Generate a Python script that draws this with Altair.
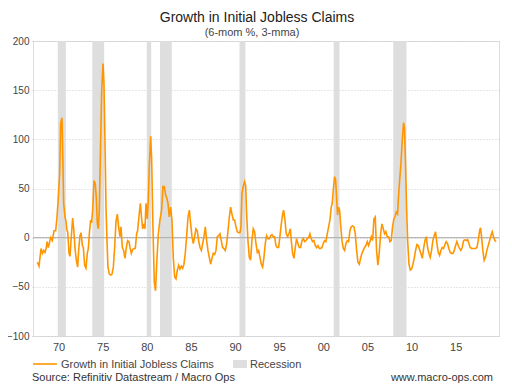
import altair as alt
import pandas as pd

years = [
    1967.60, 1967.79, 1968.02, 1968.17, 1968.32, 1968.47, 1968.62, 1968.70, 1968.85, 1969.00,
    1969.11, 1969.30, 1969.49, 1969.68, 1969.83, 1969.98, 1970.13, 1970.24, 1970.39, 1970.51,
    1970.58, 1970.74, 1970.85, 1970.96, 1971.04, 1971.19, 1971.30, 1971.45, 1971.60, 1971.72,
    1971.87, 1972.02, 1972.17, 1972.28, 1972.43, 1972.55, 1972.70, 1972.81, 1972.96, 1973.11,
    1973.26, 1973.38, 1973.49, 1973.64, 1973.75, 1973.87, 1974.02, 1974.17, 1974.28, 1974.40,
    1974.51, 1974.62, 1974.74, 1974.89, 1975.04, 1975.15, 1975.26, 1975.38, 1975.49, 1975.60,
    1975.76, 1975.91, 1976.06, 1976.21, 1976.36, 1976.51, 1976.66, 1976.81, 1976.96, 1977.08,
    1977.23, 1977.38, 1977.53, 1977.68, 1977.83, 1977.98, 1978.10, 1978.25, 1978.40, 1978.55,
    1978.70, 1978.85, 1978.96, 1979.11, 1979.27, 1979.38, 1979.53, 1979.68, 1979.79, 1979.91,
    1980.06, 1980.17, 1980.28, 1980.44, 1980.55, 1980.70, 1980.85, 1980.99,
    1981.12, 1981.31, 1981.49, 1981.68, 1981.83, 1981.98, 1982.14, 1982.25, 1982.40, 1982.55,
    1982.70, 1982.85, 1983.00, 1983.16, 1983.31, 1983.46, 1983.61, 1983.76, 1983.91, 1984.06,
    1984.21, 1984.36, 1984.51, 1984.67, 1984.82, 1984.97, 1985.12, 1985.27, 1985.42, 1985.57,
    1985.72, 1985.87, 1986.03, 1986.18, 1986.33, 1986.48, 1986.63, 1986.78, 1986.93, 1987.08,
    1987.23, 1987.38, 1987.54, 1987.69, 1987.84, 1987.99, 1988.14, 1988.29, 1988.44, 1988.59,
    1988.74, 1988.89, 1989.05, 1989.20, 1989.35, 1989.50, 1989.65, 1989.80, 1989.95, 1990.10,
    1990.25, 1990.40, 1990.55, 1990.67, 1990.78, 1990.93, 1991.08, 1991.20, 1991.31, 1991.46,
    1991.61, 1991.76, 1991.91, 1992.06, 1992.21, 1992.37, 1992.52, 1992.67, 1992.82, 1992.97,
    1993.12, 1993.27, 1993.42, 1993.57, 1993.73, 1993.88, 1994.03, 1994.18, 1994.33, 1994.48,
    1994.63, 1994.78, 1994.93, 1995.08, 1995.24, 1995.39, 1995.50, 1995.65, 1995.80, 1995.95,
    1996.10, 1996.26, 1996.37, 1996.52, 1996.67, 1996.82, 1996.97, 1997.12, 1997.27, 1997.43,
    1997.58, 1997.73, 1997.88, 1998.03, 1998.18, 1998.33, 1998.48, 1998.63, 1998.78, 1998.93,
    1999.09, 1999.24, 1999.39, 1999.54, 1999.69, 1999.84, 1999.99, 2000.14, 2000.29, 2000.45,
    2000.60, 2000.75, 2000.90, 2001.01, 2001.12, 2001.28, 2001.39, 2001.50, 2001.61, 2001.73,
    2001.84, 2001.95, 2002.11, 2002.26, 2002.41, 2002.56, 2002.71, 2002.86, 2003.01, 2003.16,
    2003.31, 2003.47, 2003.62, 2003.77, 2003.92, 2004.07, 2004.22, 2004.37, 2004.52, 2004.67,
    2004.82, 2004.98, 2005.13, 2005.28, 2005.43, 2005.58, 2005.73, 2005.88, 2006.03, 2006.18,
    2006.33, 2006.49, 2006.64, 2006.79, 2006.94, 2007.09, 2007.24, 2007.39, 2007.54, 2007.69,
    2007.84, 2007.99, 2008.11, 2008.26, 2008.41, 2008.49, 2008.64, 2008.79, 2008.94, 2009.09,
    2009.20, 2009.32, 2009.43, 2009.55, 2009.70, 2009.85, 2010.00, 2010.15, 2010.30, 2010.45,
    2010.60, 2010.75, 2010.90, 2011.05, 2011.21, 2011.36, 2011.51, 2011.66, 2011.81, 2011.96,
    2012.11, 2012.26, 2012.41, 2012.56, 2012.71, 2012.87, 2013.02, 2013.17, 2013.32, 2013.47,
    2013.62, 2013.77, 2013.92, 2014.07, 2014.22, 2014.38, 2014.53, 2014.68, 2014.83, 2014.98,
    2015.13, 2015.28, 2015.43, 2015.58, 2015.73, 2015.89, 2016.04, 2016.19, 2016.34, 2016.49,
    2016.64, 2016.79, 2016.94, 2017.09, 2017.24, 2017.40, 2017.55, 2017.70, 2017.81, 2017.92,
    2018.07, 2018.22, 2018.37, 2018.52, 2018.68, 2018.83, 2018.98, 2019.13, 2019.28, 2019.43,
    2019.58,
]

values = [
    -25, -29, -11, -16, -13, -15, -10, -4, -10, -4,
    0, -3, 7, 7, 21, 41, 65, 116, 122, 72,
    35, 21, 16, 7, 6, -16, -19, 1, 20, 9,
    -11, -23, -30, -13, 2, 5, -8, -10, -28, -31,
    -16, -11, 4, 18, 15, 28, 58, 55, 41, 14,
    9, 28, 82, 150, 177, 157, 99, 31, -3, -30,
    -37, -38, -37, -30, -10, 16, 24, 11, 1, 11,
    -10, -13, -21, -10, -3, -4, -10, -16, -12, -11,
    -11, 4, 7, 21, 35, 23, 9, 14, 9, 35,
    19, 38, 72, 103, 80, 10, -45, -54,
    -27, 4, 18, 28, 52, 52, 43, 41, 35, 21,
    31, 18, -20, -40, -42, -33, -28, -32, -29, -31,
    -27, -16, 1, 21, 28, 14, 1, -6, 1, 9,
    7, -3, -10, -13, -6, 1, 11, -3, -13, -20,
    -27, -21, -16, -17, -13, 1, 2, 4, -3, -10,
    -11, -13, -6, 7, 21, 31, 24, 18, 18, 11,
    6, 5, 5, 11, 45, 52, 57, 53, 24, -3,
    -20, -23, -3, 9, 6, -6, -15, -13, -20, -27,
    -30, -20, -6, 2, -1, -1, 2, 3, 1, 1,
    -8, -10, -10, 1, 14, 24, 28, 18, 4, 1,
    4, 9, -3, -16, -21, -10, -1, -6, -10, -10,
    -3, -1, -4, -3, -1, 0, 4, -1, -4, -3,
    -8, -10, -8, -11, -11, -10, -6, -3, -4, 4,
    11, 18, 31, 35, 48, 62, 59, 41, 23, 31,
    28, 14, -3, -11, -13, -6, -3, -4, 7, 11,
    12, 11, 4, -13, -25, -27, -21, -16, -13, -10,
    -8, -4, -8, -4, 1, -3, 19, 21, -13, -28,
    -16, 4, 14, 9, 4, 6, 1, 1, -4, -3,
    11, 19, 21, 26, 24, 38, 58, 75, 99, 117,
    111, 72, 31, -3, -27, -33, -32, -27, -21, -13,
    -7, -8, -12, -16, -21, -11, -3, 1, -10, -16,
    -20, -13, -3, 2, 6, -6, -15, -18, -13, -10,
    -11, -7, -4, -6, -11, -15, -16, -16, -13, -8,
    -4, -8, -11, -13, -10, -3, -2, -3, -2, -6,
    -10, -11, -11, -11, -11, -10, -3, 7, 10, 1,
    -13, -23, -20, -13, -8, -3, 2, 6, 1, -3,
    -4,
]

rec_start = [1969.92, 1973.83, 1980.00, 1981.50, 1990.50, 2001.17, 2007.92]
rec_end = [1970.83, 1975.17, 1980.50, 1982.83, 1991.17, 2001.83, 2009.42]

x_ticks = [1970, 1975, 1980, 1985, 1990, 1995, 2000, 2005, 2010, 2015]
y_ticks = [-100, -50, 0, 50, 100, 150, 200]

title_text = "Growth in Initial Jobless Claims"
subtitle_text = "(6-mom %, 3-mma)"
series_name = "Growth in Initial Jobless Claims"
rec_name = "Recession"
source_text = "Source: Refinitiv Datastream / Macro Ops"
site_text = "www.macro-ops.com"

FONT = "Liberation Sans, Arial, sans-serif"
ORANGE = "#ff9500"
GRAY_BAND = "#dedede"

df = pd.DataFrame({"year": years, "value": values})
rec = pd.DataFrame({"start": rec_start, "end": rec_end})

xscale = alt.Scale(domain=[1967.11, 2019.9], nice=False, zero=False)
yscale = alt.Scale(domain=[-100, 200], nice=False, zero=False)

bands = alt.Chart(rec).mark_rect(color=GRAY_BAND).encode(
    x=alt.X("start:Q", scale=xscale),
    x2="end:Q",
    y=alt.datum(200, scale=yscale),
    y2=alt.datum(-100),
)

zero = alt.Chart(pd.DataFrame({"v": [0]})).mark_rule(color="#aaaaaa", strokeWidth=1).encode(
    y=alt.Y("v:Q", scale=yscale)
)

line = alt.Chart(df).mark_line(color=ORANGE, strokeWidth=1.6).encode(
    x=alt.X(
        "year:Q",
        scale=xscale,
        axis=alt.Axis(
            values=x_ticks,
            labelExpr="slice(toString(datum.value), 2)",
            grid=False,
            domain=False,
            ticks=False,
            labelPadding=5,
            labelFontSize=11,
            labelColor="#444444",
            labelFont=FONT,
            title=None,
        ),
    ),
    y=alt.Y(
        "value:Q",
        scale=yscale,
        axis=alt.Axis(
            values=y_ticks,
            grid=True,
            gridColor="#cccccc",
            gridDash=[1, 2],
            domain=False,
            ticks=True,
            tickSize=3,
            tickColor="#cccccc",
            tickDash=[1, 2],
            labelPadding=1,
            labelFontSize=10,
            labelColor="#444444",
            labelFont=FONT,
            title=None,
        ),
    ),
)

def txt(s, x, y, size, color, align="left"):
    return alt.Chart(pd.DataFrame({"t": [s]})).mark_text(
        align=align, baseline="alphabetic", fontSize=size, color=color, font=FONT
    ).encode(text="t:N", x=alt.value(x), y=alt.value(y))

title = txt(title_text, 224, -19, 14, "#222222", "center")
subtitle = txt(subtitle_text, 219, -5, 11, "#444444", "center")
leg_line = alt.Chart(pd.DataFrame({"a": [0]})).mark_rule(color=ORANGE, strokeWidth=1.6).encode(
    x=alt.value(0), x2=alt.value(24), y=alt.value(323)
)
leg_text1 = txt(series_name, 28, 327, 11, "#444444")
leg_rect = alt.Chart(pd.DataFrame({"a": [0]})).mark_rect(color=GRAY_BAND).encode(
    x=alt.value(200), x2=alt.value(214), y=alt.value(319), y2=alt.value(327)
)
leg_text2 = txt(rec_name, 217, 327, 11, "#444444")
src = txt(source_text, -1, 340, 11, "#333333")
site = txt(site_text, 460, 340, 11, "#333333", "right")

chart = alt.layer(
    bands, zero, line, title, subtitle, leg_line, leg_text1, leg_rect, leg_text2, src, site
).properties(
    width=466,
    height=295,
    padding={"left": 25, "top": 33, "right": 5, "bottom": 48},
    autosize=alt.AutoSizeParams(type="none"),
).configure_view(stroke=None).configure(background="white")

chart.save("out.html", embed_options={"renderer": "svg", "actions": False})
